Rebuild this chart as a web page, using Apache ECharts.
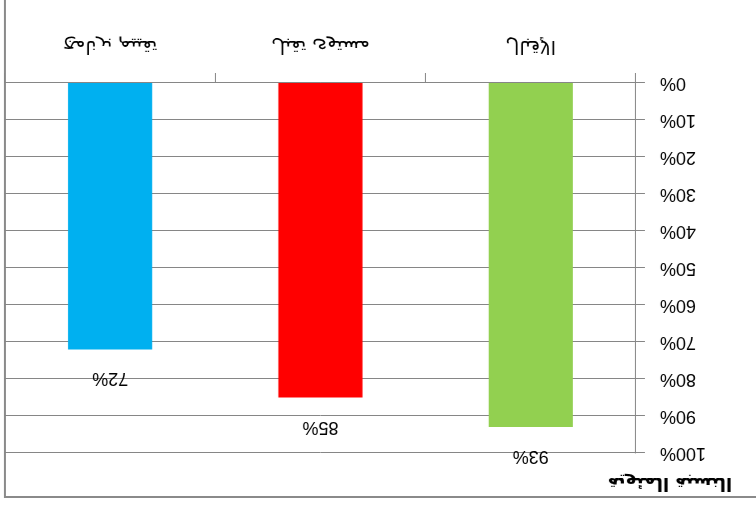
<!DOCTYPE html>
<html>
<head>
<meta charset="utf-8">
<script src="https://cdn.jsdelivr.net/npm/echarts@6/dist/echarts.min.js"></script>
<style>
  html, body { margin: 0; padding: 0; background: #ffffff; }
  #chart { width: 756px; height: 506px; transform: rotate(180deg); transform-origin: 50% 50%; }
</style>
</head>
<body>
<div id="chart"></div>
<script>
// ---- data ----
const categories = ["الإقبال", "مستوى تقبل", "تقييم برنامج"];
const values = [93, 85, 72];
const barColors = ["#92D050", "#FF0000", "#00B0F0"];
const yTicks = [0, 10, 20, 30, 40, 50, 60, 70, 80, 90, 100];
const axisTitle = "النسبة المئوية";

const chart = echarts.init(document.getElementById('chart'), null, { renderer: 'canvas' });
const grey = '#868686';
const latin = "'Liberation Sans', Arial, sans-serif";
const arabic = "'DejaVu Sans', 'Noto Sans', sans-serif";

chart.setOption({
  animation: false,
  backgroundColor: '#ffffff',
  grid: { left: 120, right: 5, top: 53, bottom: 83 },
  xAxis: {
    type: 'category',
    data: categories,
    axisLine: { show: true, lineStyle: { color: grey, width: 1 } },
    axisTick: { show: true, length: 10, lineStyle: { color: grey } },
    axisLabel: { show: false },
    splitLine: { show: false }
  },
  yAxis: {
    type: 'value',
    min: yTicks[0],
    max: yTicks[yTicks.length - 1],
    interval: yTicks[1] - yTicks[0],
    axisLine: { show: true, lineStyle: { color: grey, width: 1 } },
    axisTick: { show: true, length: 9, lineStyle: { color: grey } },
    axisLabel: { margin: 24, formatter: '{value}%', fontFamily: latin, fontSize: 18, color: '#000' },
    splitLine: { show: true, lineStyle: { color: grey, width: 1 } }
  },
  graphic: [{
    type: 'rect',
    shape: { x: -10, y: 9, width: 761, height: 520 },
    style: { fill: 'none', stroke: '#8a8a8a', lineWidth: 2 },
    silent: true
  }, {
    type: 'text',
    x: 86, y: 23,
    scaleX: -1,
    style: { text: axisTitle, fontFamily: arabic, fontSize: 18, fontWeight: 'bold', fill: '#000', align: 'center', verticalAlign: 'middle' },
    silent: true
  }],
  series: [{
    type: 'bar',
    barWidth: '40%',
    data: values.map((v, i) => ({ value: v, itemStyle: { color: barColors[i] } })),
    label: {
      show: true, position: 'top', distance: 20,
      formatter: '{c}%', fontFamily: latin, fontSize: 18, color: '#000'
    }
  }, {
    type: 'custom',
    clip: false,
    silent: true,
    data: categories.map((c, i) => [i, 0]),
    encode: { x: 0, y: 1 },
    renderItem: function (params, api) {
      const idx = api.value(0);
      const p = api.coord([idx, 0]);
      return {
        type: 'text',
        x: p[0], y: p[1] + 37,
        scaleX: -1,
        style: { text: categories[idx], fontFamily: arabic, fontSize: 19, fill: '#000', align: 'center', verticalAlign: 'middle' }
      };
    }
  }]
});
</script>
</body>
</html>
